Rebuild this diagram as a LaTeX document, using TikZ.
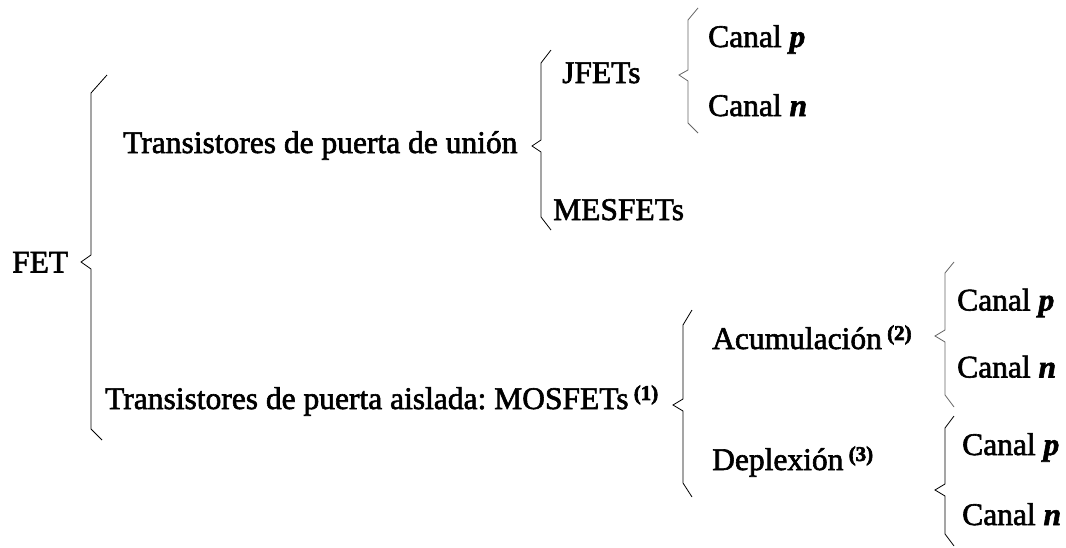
\documentclass[tikz,border=0pt]{standalone}
\usepackage{fontspec}
\setmainfont{Liberation Serif}
\newcommand{\heavytext}{\special{pdf:literal direct 2 Tr 0.6 w}}
\newcommand{\supnum}[1]{\textsuperscript{\fontsize{21}{24}\selectfont\bfseries(#1)}}
\frenchspacing
\begin{document}
\begin{tikzpicture}[x=1pt,y=-1pt,
  lbl/.style={inner sep=0pt,anchor=base west,font=\fontsize{31.5}{36}\selectfont\heavytext},
  brace/.style={draw=black,line width=0.8pt,line join=miter},
  gbrace/.style={draw=black!60,line width=0.8pt,line join=miter}]
\useasboundingbox[fill=white] (0,0) rectangle (1066,547);
% texts
\node[lbl] (fet) at (12,272.5) {FET};
\node[lbl] (union) at (123,153) {Transistores de puerta de unión};
\node[lbl] (jfet) at (562,83) {JFETs};
\node[lbl] (mesfet) at (553,220) {MESFETs};
\node[lbl] (jp) at (708,47) {Canal \textbf{\textit{p}}};
\node[lbl] (jn) at (708,116) {Canal \textbf{\textit{n}}};
\node[lbl] (mos) at (105,409) {Transistores de puerta aislada: MOSFETs\,\supnum{1}};
\node[lbl] (acu) at (712,349) {Acumulación\,\supnum{2}};
\node[lbl] (dep) at (712,470) {Deplexión\,\supnum{3}};
\node[lbl] (ap) at (957,310.5) {Canal \textbf{\textit{p}}};
\node[lbl] (an) at (957,377.5) {Canal \textbf{\textit{n}}};
\node[lbl] (dp) at (962,455) {Canal \textbf{\textit{p}}};
\node[lbl] (dn) at (962,525) {Canal \textbf{\textit{n}}};
% braces
\draw[brace] (107,75) -- (91,93) -- (91,255) -- (81,262) -- (91,269) -- (91,429) -- (102,440);
\draw[brace] (551,50) -- (541,63) -- (541,140) -- (532,146) -- (541,152) -- (541,217) -- (551,230);
\draw[gbrace] (698,8) -- (688,20) -- (688,70) -- (679,75) -- (688,81) -- (688,123) -- (698,133);
\draw[brace] (692,310) -- (683,325) -- (683,399) -- (673,405) -- (683,411) -- (683,483) -- (692,497);
\draw[gbrace] (954,262) -- (945,273) -- (945,330) -- (935,336) -- (945,342) -- (945,395) -- (954,407);
\draw[brace] (954,416) -- (945,428) -- (945,484) -- (935,490) -- (945,496) -- (945,534) -- (954,546);
\end{tikzpicture}
\end{document}
